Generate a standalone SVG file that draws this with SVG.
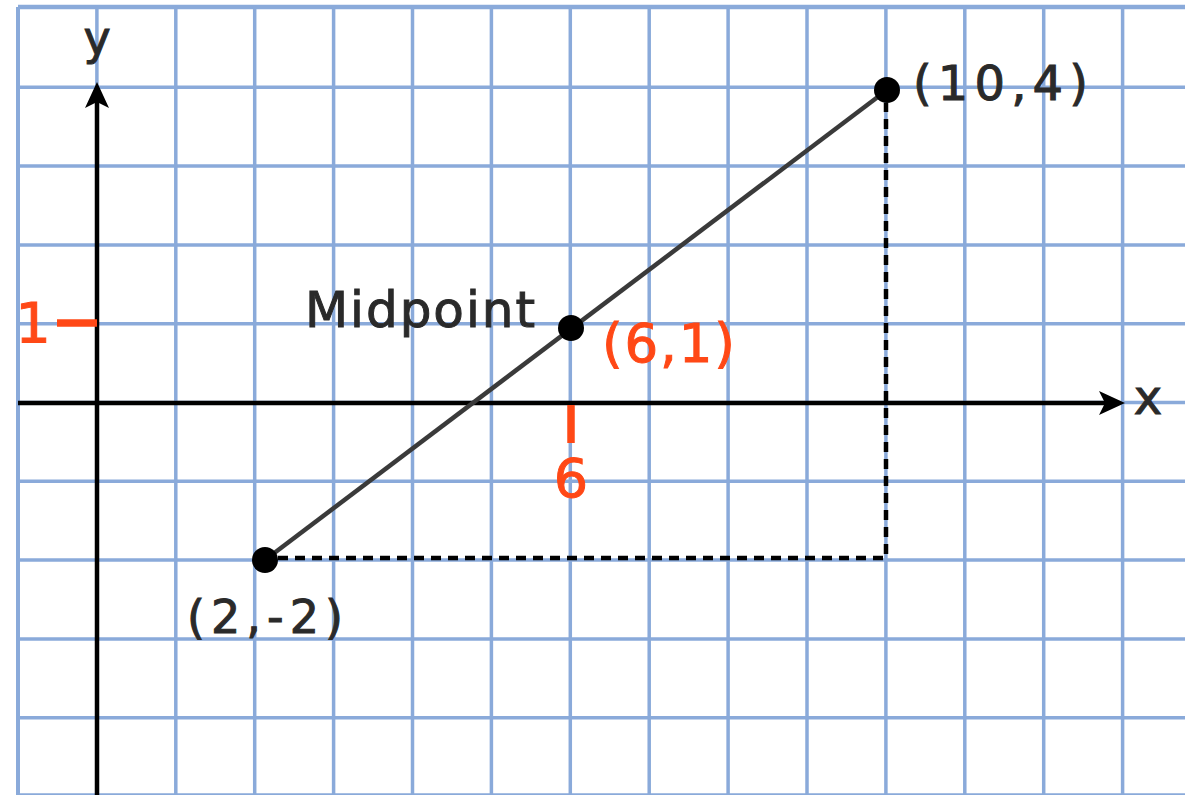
<svg xmlns="http://www.w3.org/2000/svg" width="1185" height="795" viewBox="0 0 1185 795">
<style>
.grid line{stroke:#8aaada;stroke-width:3.5}
.axis{stroke:#000;stroke-width:4.5;fill:none}
.lbl{font-family:"DejaVu Sans","Open Sans",sans-serif;fill:#2a2a2a;stroke:#2a2a2a;stroke-width:1}
.red{font-family:"DejaVu Sans","Open Sans",sans-serif;fill:#ff4816;stroke:#ff4816;stroke-width:1}
.tick{stroke:#ff4816;stroke-width:7.5}
.dot{fill:#000}
.dash{stroke:#000;stroke-width:4.5;stroke-dasharray:10 7;fill:none}
.seg{stroke:#3a3a3a;stroke-width:4.5;fill:none}
</style>
<defs>
<marker id="arr" markerUnits="userSpaceOnUse" viewBox="0 0 26 24" markerWidth="26" markerHeight="24" refX="11" refY="12" orient="auto">
<path d="M0,0 L26,12 L0,24 L6,12 Z" fill="#000"/>
</marker>
</defs>
<rect width="1185" height="795" fill="#fff"/>
<g id="grid" class="grid">
<line x1="18" y1="7" x2="1185" y2="7" style="stroke-width:4.5"/>
<line x1="18" y1="87.3" x2="1185" y2="87.3"/>
<line x1="18" y1="166.1" x2="1185" y2="166.1"/>
<line x1="18" y1="244.9" x2="1185" y2="244.9"/>
<line x1="18" y1="323.7" x2="1185" y2="323.7"/>
<line x1="18" y1="402.5" x2="1185" y2="402.5"/>
<line x1="18" y1="481.3" x2="1185" y2="481.3"/>
<line x1="18" y1="560.1" x2="1185" y2="560.1"/>
<line x1="18" y1="638.9" x2="1185" y2="638.9"/>
<line x1="18" y1="717.7" x2="1185" y2="717.7"/>
<line x1="18" y1="795" x2="1185" y2="795"/>
<line x1="18" y1="7" x2="18" y2="795" style="stroke-width:4"/>
<line x1="96.9" y1="7" x2="96.9" y2="795"/>
<line x1="175.8" y1="7" x2="175.8" y2="795"/>
<line x1="254.7" y1="7" x2="254.7" y2="795"/>
<line x1="333.6" y1="7" x2="333.6" y2="795"/>
<line x1="412.5" y1="7" x2="412.5" y2="795"/>
<line x1="491.4" y1="7" x2="491.4" y2="795"/>
<line x1="570.3" y1="7" x2="570.3" y2="795"/>
<line x1="649.2" y1="7" x2="649.2" y2="795"/>
<line x1="728.1" y1="7" x2="728.1" y2="795"/>
<line x1="807" y1="7" x2="807" y2="795"/>
<line x1="885.9" y1="7" x2="885.9" y2="795"/>
<line x1="964.8" y1="7" x2="964.8" y2="795"/>
<line x1="1043.7" y1="7" x2="1043.7" y2="795"/>
<line x1="1122.6" y1="7" x2="1122.6" y2="795"/>
</g>
<g id="axes">
<line class="axis" x1="18" y1="403" x2="1110" y2="403" marker-end="url(#arr)"/>
<line class="axis" x1="97" y1="795" x2="97" y2="97" marker-end="url(#arr)"/>
<text class="lbl" x="97" y="54" font-size="46" text-anchor="middle">y</text>
<text class="lbl" x="1148" y="414" font-size="48" text-anchor="middle">x</text>
<line class="tick" x1="571" y1="405" x2="571" y2="443"/>
<line class="tick" x1="57" y1="323" x2="97" y2="323"/>
<text class="red" x="571" y="497" font-size="54" text-anchor="middle">6</text>
<text class="red" x="33" y="342" font-size="56" text-anchor="middle">1</text>
</g>
<g id="connectors">
<path class="dash" d="M278,558 L886,558 L886,103"/>
<line class="seg" x1="265" y1="560" x2="887" y2="90"/>
</g>
<g id="point-a">
<circle class="dot" cx="265" cy="560" r="13"/>
<text class="lbl" x="187" y="633" font-size="46" textLength="156" lengthAdjust="spacing">(2,-2)</text>
</g>
<g id="point-b">
<circle class="dot" cx="887" cy="90" r="13"/>
<text class="lbl" x="913" y="100" font-size="48" textLength="175" lengthAdjust="spacing">(10,4)</text>
</g>
<g id="midpoint">
<circle class="dot" cx="571" cy="328" r="13"/>
<text class="lbl" x="305" y="327" font-size="50" textLength="230" lengthAdjust="spacing">Midpoint</text>
<text class="red" x="602" y="362" font-size="53" textLength="133" lengthAdjust="spacing">(6,1)</text>
</g>
</svg>
